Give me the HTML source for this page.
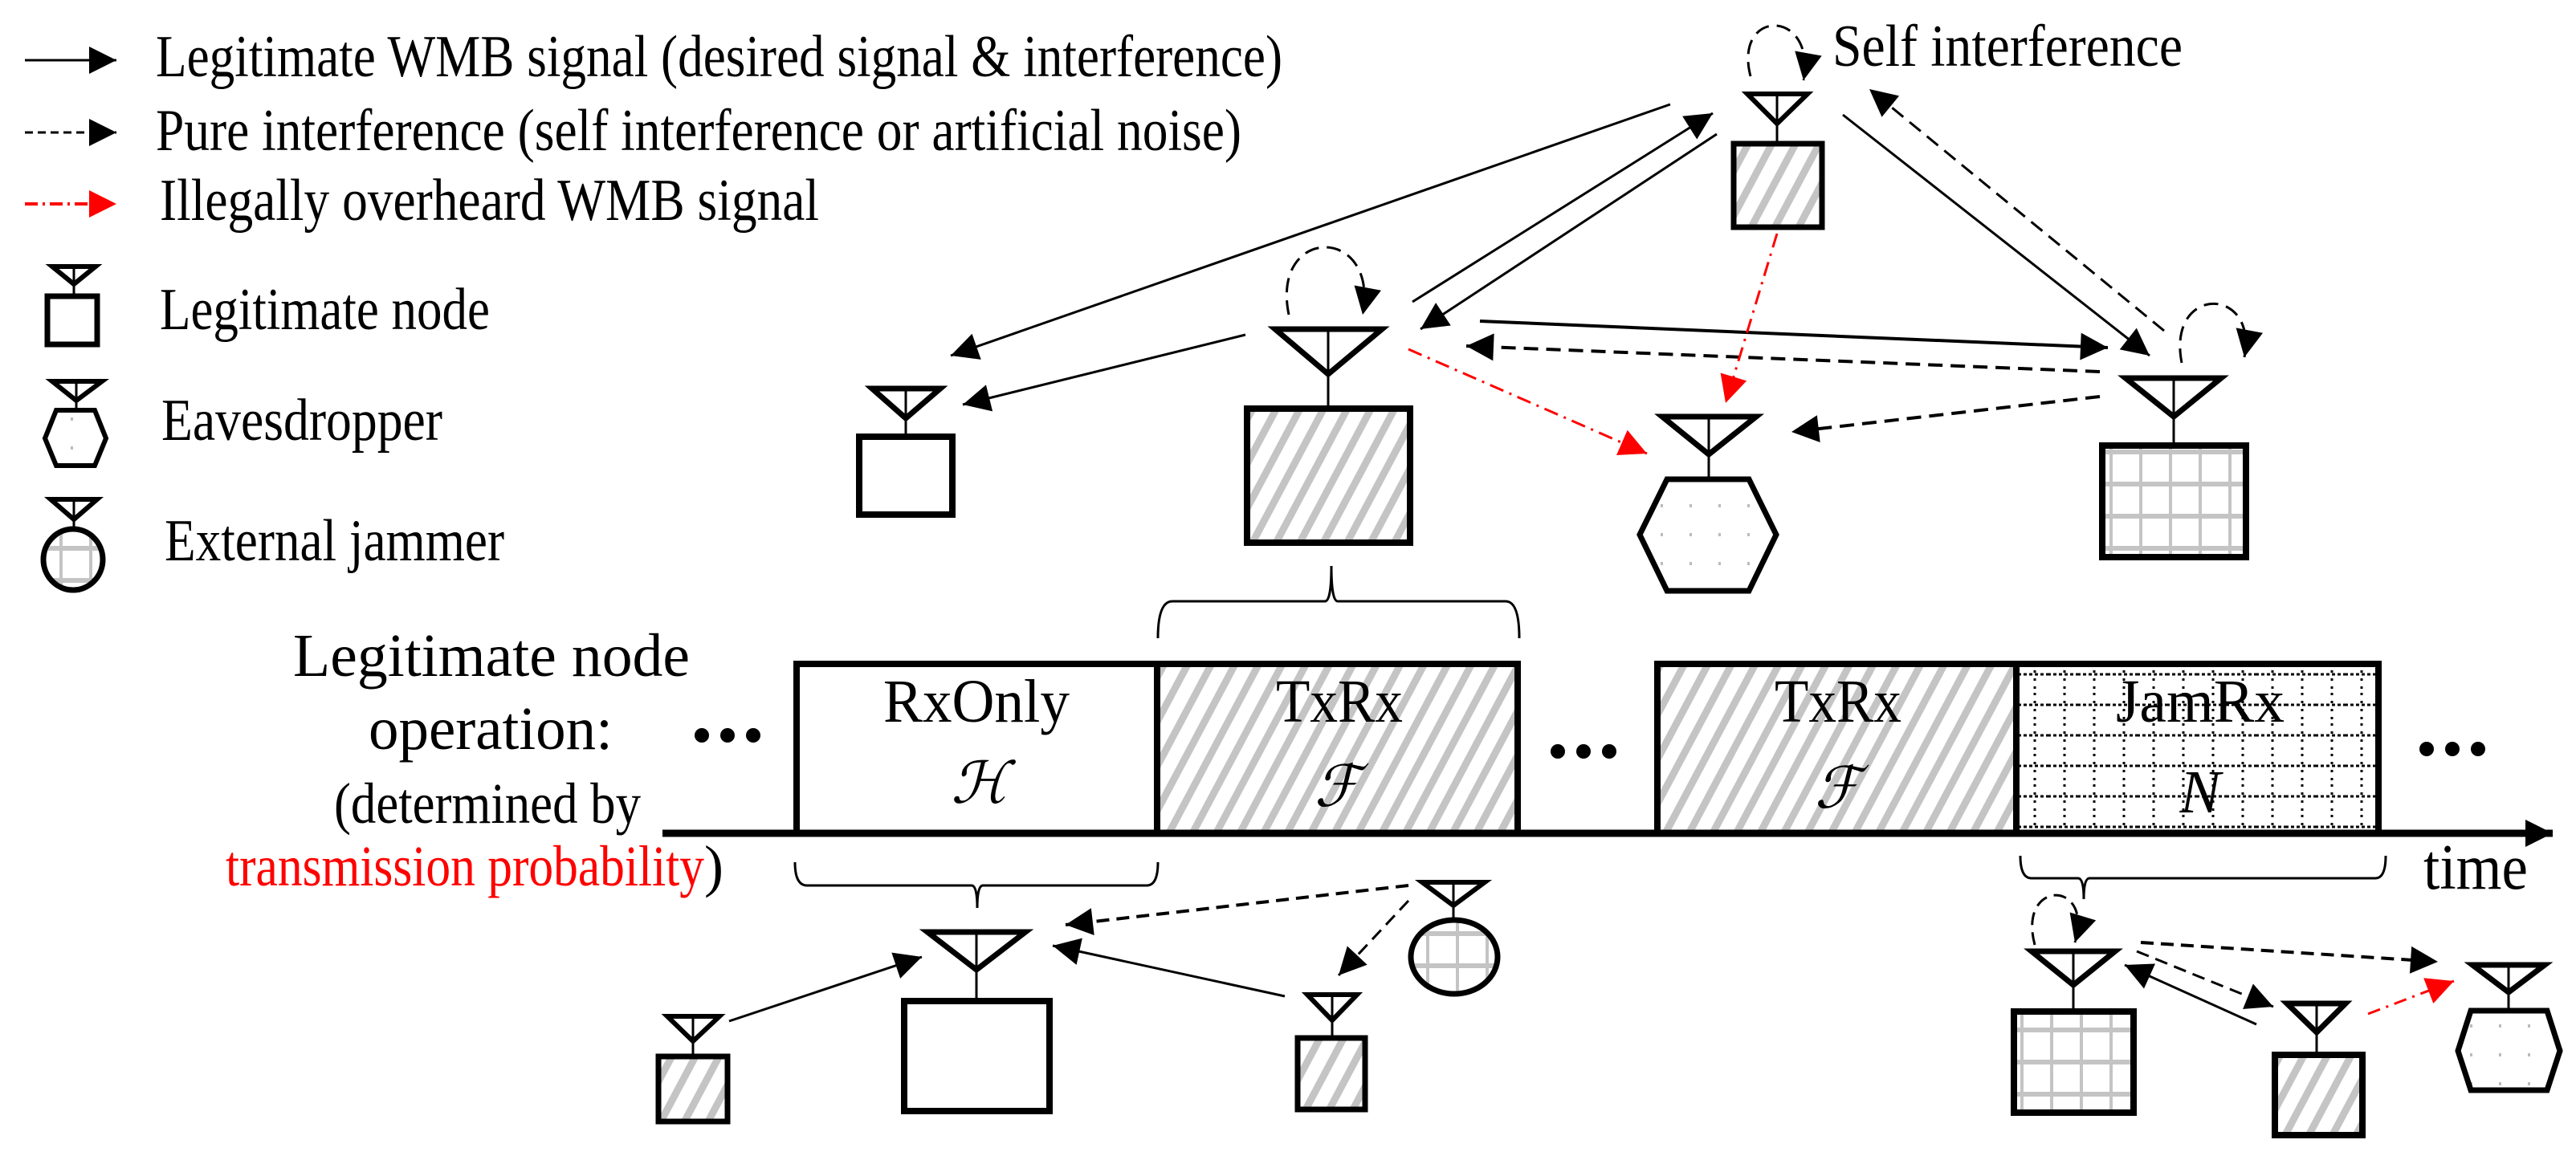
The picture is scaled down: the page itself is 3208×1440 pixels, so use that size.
<!DOCTYPE html>
<html><head><meta charset="utf-8"><style>
html,body{margin:0;padding:0;background:#fff;}
svg{display:block;}
text{font-family:"Liberation Serif","DejaVu Serif",serif;fill:#000;}
</style></head><body>
<svg width="3208" height="1440" viewBox="0 0 3208 1440" xmlns="http://www.w3.org/2000/svg">
<defs>
<marker id="a" viewBox="0 0 10 10" refX="10" refY="5" markerWidth="40" markerHeight="34" markerUnits="userSpaceOnUse" orient="auto"><path d="M0,0 L10,5 L0,10 z" fill="#000"/></marker>
<marker id="r" viewBox="0 0 10 10" refX="10" refY="5" markerWidth="40" markerHeight="34" markerUnits="userSpaceOnUse" orient="auto"><path d="M0,0 L10,5 L0,10 z" fill="#f00"/></marker>
<pattern id="h" patternUnits="userSpaceOnUse" width="26" height="26" patternTransform="rotate(28)"><rect width="26" height="26" fill="#fff"/><rect x="0" y="0" width="9" height="26" fill="#c4c4c4"/></pattern>
<pattern id="g" patternUnits="userSpaceOnUse" width="37" height="40"><rect width="37" height="40" fill="#fff"/><rect x="0" y="0" width="37" height="6" fill="#c4c4c4"/><rect x="0" y="0" width="4" height="40" fill="#c4c4c4"/></pattern>
<pattern id="d" patternUnits="userSpaceOnUse" width="37" height="38" x="2513" y="825"><rect width="37" height="38" fill="#fff"/><line x1="0" y1="15" x2="37" y2="15" stroke="#000" stroke-width="3" stroke-dasharray="4 3"/><line x1="21" y1="0" x2="21" y2="38" stroke="#000" stroke-width="3" stroke-dasharray="3 7"/></pattern>
<pattern id="p" patternUnits="userSpaceOnUse" width="36" height="36"><rect width="36" height="36" fill="#fff"/><rect x="16" y="16" width="3" height="4" fill="#bbb"/></pattern>
</defs>

<!-- Legend -->
<g stroke-width="3" fill="none">
<line x1="31" y1="75" x2="145" y2="75" stroke="#000" marker-end="url(#a)"/>
<line x1="31" y1="165" x2="145" y2="165" stroke="#000" stroke-dasharray="10 6" marker-end="url(#a)"/>
<line x1="31" y1="254" x2="145" y2="254" stroke="#f00" stroke-width="4" stroke-dasharray="16 6 3 6" marker-end="url(#r)"/>
</g>
<text x="194" y="95" font-size="74" textLength="1403" lengthAdjust="spacingAndGlyphs">Legitimate WMB signal (desired signal &amp; interference)</text>
<text x="194" y="187" font-size="74" textLength="1352" lengthAdjust="spacingAndGlyphs">Pure interference (self interference or artificial noise)</text>
<text x="199" y="274" font-size="74" textLength="821" lengthAdjust="spacingAndGlyphs">Illegally overheard WMB signal</text>
<text x="199" y="410" font-size="74" textLength="411" lengthAdjust="spacingAndGlyphs">Legitimate node</text>
<text x="201" y="548" font-size="74" textLength="350" lengthAdjust="spacingAndGlyphs">Eavesdropper</text>
<text x="205" y="698" font-size="74" textLength="423" lengthAdjust="spacingAndGlyphs">External jammer</text>

<g stroke="#000" fill="#fff">
<polygon points="65,332 119,332 92,354" stroke-width="6"/><line x1="92" y1="332" x2="92" y2="366" stroke-width="3"/>
<rect x="59" y="369" width="62" height="60" stroke-width="7"/>
<polygon points="65,475 127,475 95,499" stroke-width="6"/><line x1="95" y1="475" x2="95" y2="511" stroke-width="3"/>
<polygon points="70,511 118,511 132,546 118,580 70,580 56,546" fill="url(#p)" stroke-width="6"/>
<polygon points="63,622 121,622 92,647" stroke-width="6"/><line x1="92" y1="622" x2="92" y2="658" stroke-width="3"/>
<ellipse cx="91" cy="697" rx="37" ry="38" fill="url(#g)" stroke-width="7"/>
</g>

<text x="2282" y="82" font-size="74" textLength="436" lengthAdjust="spacingAndGlyphs">Self interference</text>

<!-- Top network arrows -->
<g stroke="#000" stroke-width="3" fill="none">
<line x1="2080" y1="130" x2="1184" y2="443" marker-end="url(#a)"/>
<line x1="1551" y1="417" x2="1199" y2="504" marker-end="url(#a)"/>
<line x1="1759" y1="376" x2="2133" y2="141" marker-end="url(#a)"/>
<line x1="2138" y1="167" x2="1769" y2="410" marker-end="url(#a)"/>
<line x1="2295" y1="143" x2="2677" y2="443" marker-end="url(#a)"/>
<line x1="1843" y1="400" x2="2625" y2="433" marker-end="url(#a)" stroke-width="4"/>
<g stroke-dasharray="18 10">
<line x1="2695" y1="412" x2="2328" y2="111" marker-end="url(#a)"/>
<line x1="2615" y1="463" x2="1826" y2="431" marker-end="url(#a)" stroke-width="4"/>
<line x1="2615" y1="494" x2="2231" y2="538" marker-end="url(#a)" stroke-width="4"/>
<path d="M2180,95 C2158,10 2262,10 2246,100" marker-end="url(#a)"/>
<path d="M1605,392 C1582,280 1718,280 1697,392" marker-end="url(#a)"/>
<path d="M2717,452 C2698,355 2812,355 2795,445" marker-end="url(#a)"/>
</g>
<g stroke="#f00" stroke-dasharray="18 8 3 8">
<line x1="1754" y1="435" x2="2051" y2="565" marker-end="url(#r)"/>
<line x1="2213" y1="291" x2="2149" y2="502" marker-end="url(#r)"/>
</g>
</g>

<!-- Top nodes -->
<g stroke="#000">
<polygon points="1086,484 1171,484 1128,521" fill="#fff" stroke-width="7"/><line x1="1128" y1="484" x2="1128" y2="540" stroke-width="3"/>
<rect x="1070" y="544" width="116" height="97" fill="#fff" stroke-width="8"/>
<polygon points="2176,117 2251,117 2213,154" fill="#fff" stroke-width="6"/><line x1="2213" y1="117" x2="2213" y2="178" stroke-width="3"/>
<rect x="2159" y="179" width="110" height="104" fill="url(#h)" stroke-width="7"/>
<polygon points="1588,410 1721,410 1654,466" fill="#fff" stroke-width="7"/><line x1="1654" y1="410" x2="1654" y2="506" stroke-width="3"/>
<rect x="1553" y="509" width="203" height="167" fill="url(#h)" stroke-width="8"/>
<polygon points="2070,519 2187,519 2128,566" fill="#fff" stroke-width="7"/><line x1="2128" y1="519" x2="2128" y2="596" stroke-width="3"/>
<polygon points="2076,597 2178,597 2212,666 2178,736 2076,736 2042,666" fill="url(#p)" stroke-width="7"/>
<polygon points="2647,471 2766,471 2707,519" fill="#fff" stroke-width="7"/><line x1="2707" y1="471" x2="2707" y2="554" stroke-width="3"/>
<rect x="2618" y="555" width="179" height="139" fill="url(#g)" stroke-width="8"/>
</g>

<!-- brackets -->
<g stroke="#000" stroke-width="3" fill="none">
<path d="M1442,795 Q1442,749 1460,749 L1650,749 Q1658,749 1658,705 Q1658,749 1666,749 L1875,749 Q1892,749 1892,795"/>
<path d="M990,1074 Q990,1103 1005,1103 L1210,1103 Q1217,1103 1217,1131 Q1217,1103 1224,1103 L1428,1103 Q1442,1103 1442,1074"/>
<path d="M2516,1066 Q2516,1094 2530,1094 L2588,1094 Q2595,1094 2595,1120 Q2595,1094 2602,1094 L2958,1094 Q2971,1094 2971,1066"/>
</g>

<!-- Timeline boxes -->
<rect x="992" y="827" width="449" height="211" fill="#fff" stroke="#000" stroke-width="8"/>
<rect x="1441" y="827" width="449" height="211" fill="url(#h)" stroke="#000" stroke-width="8"/>
<rect x="2064" y="827" width="447" height="211" fill="url(#h)" stroke="#000" stroke-width="8"/>
<rect x="2511" y="827" width="451" height="211" fill="url(#d)" stroke="#000" stroke-width="8"/>
<line x1="825" y1="1038" x2="3179" y2="1038" stroke="#000" stroke-width="9" marker-end="url(#a)"/>

<text x="1216" y="899" font-size="76" text-anchor="middle" textLength="232" lengthAdjust="spacingAndGlyphs">RxOnly</text>
<text x="1668" y="899" font-size="76" text-anchor="middle" textLength="158" lengthAdjust="spacingAndGlyphs">TxRx</text>
<text x="2289" y="899" font-size="76" text-anchor="middle" textLength="158" lengthAdjust="spacingAndGlyphs">TxRx</text>
<text x="2740" y="899" font-size="76" text-anchor="middle" textLength="210" lengthAdjust="spacingAndGlyphs">JamRx</text>
<text x="1220" y="1000" font-size="72" text-anchor="middle" font-style="italic" style="font-family:'DejaVu Serif','Liberation Serif',serif">ℋ</text>
<text x="1665" y="1004" font-size="72" text-anchor="middle" font-style="italic" style="font-family:'DejaVu Serif','Liberation Serif',serif">ℱ</text>
<text x="2288" y="1006" font-size="72" text-anchor="middle" font-style="italic" style="font-family:'DejaVu Serif','Liberation Serif',serif">ℱ</text>
<text x="2740" y="1012" font-size="76" text-anchor="middle" font-style="italic">N</text>

<text x="612" y="842" font-size="76" text-anchor="middle" textLength="494" lengthAdjust="spacingAndGlyphs">Legitimate node</text>
<text x="611" y="933" font-size="76" text-anchor="middle" textLength="304" lengthAdjust="spacingAndGlyphs">operation:</text>
<text x="416" y="1025" font-size="72" textLength="382" lengthAdjust="spacingAndGlyphs">(determined by</text>
<text x="281" y="1103" font-size="72" textLength="596" lengthAdjust="spacingAndGlyphs" style="fill:#f00">transmission probability</text>
<text x="877" y="1103" font-size="72">)</text>
<text x="3018" y="1107" font-size="80" textLength="130" lengthAdjust="spacingAndGlyphs">time</text>

<g fill="#000">
<circle cx="874" cy="916" r="9"/><circle cx="906" cy="916" r="9"/><circle cx="938" cy="916" r="9"/>
<circle cx="1940" cy="936" r="9"/><circle cx="1972" cy="936" r="9"/><circle cx="2004" cy="936" r="9"/>
<circle cx="3022" cy="933" r="9"/><circle cx="3054" cy="933" r="9"/><circle cx="3086" cy="933" r="9"/>
</g>

<!-- Bottom arrows -->
<g stroke="#000" stroke-width="3" fill="none">
<line x1="908" y1="1272" x2="1148" y2="1192" marker-end="url(#a)"/>
<line x1="1600" y1="1241" x2="1311" y2="1178" marker-end="url(#a)"/>
<line x1="2810" y1="1276" x2="2646" y2="1202" marker-end="url(#a)"/>
<g stroke-dasharray="16 9">
<line x1="1754" y1="1103" x2="1327" y2="1152" marker-end="url(#a)" stroke-width="4"/>
<line x1="1754" y1="1122" x2="1667" y2="1215" marker-end="url(#a)"/>
<line x1="2666" y1="1174" x2="3036" y2="1198" marker-end="url(#a)" stroke-width="4"/>
<line x1="2661" y1="1185" x2="2831" y2="1254" marker-end="url(#a)"/>
<path d="M2534,1177 C2512,1095 2608,1095 2584,1174" marker-end="url(#a)"/>
</g>
<line x1="2949" y1="1263" x2="3056" y2="1222" stroke="#f00" stroke-dasharray="16 8 3 8" marker-end="url(#r)"/>
</g>

<!-- Bottom nodes -->
<g stroke="#000">
<polygon points="1155,1161 1277,1161 1216,1208" fill="#fff" stroke-width="7"/><line x1="1216" y1="1161" x2="1216" y2="1243" stroke-width="3"/>
<rect x="1126" y="1247" width="181" height="137" fill="#fff" stroke-width="8"/>
<polygon points="831,1266 896,1266 863,1297" fill="#fff" stroke-width="6"/><line x1="863" y1="1266" x2="863" y2="1313" stroke-width="3"/>
<rect x="820" y="1316" width="86" height="81" fill="url(#h)" stroke-width="7"/>
<polygon points="1771,1099 1849,1099 1810,1128" fill="#fff" stroke-width="6"/><line x1="1810" y1="1099" x2="1810" y2="1144" stroke-width="3"/>
<ellipse cx="1811" cy="1192" rx="54" ry="46" fill="url(#g)" stroke-width="7"/>
<polygon points="1628,1239 1690,1239 1659,1271" fill="#fff" stroke-width="6"/><line x1="1659" y1="1239" x2="1659" y2="1290" stroke-width="3"/>
<rect x="1616" y="1293" width="84" height="89" fill="url(#h)" stroke-width="7"/>
<polygon points="2530,1185 2634,1185 2582,1227" fill="#fff" stroke-width="7"/><line x1="2582" y1="1185" x2="2582" y2="1257" stroke-width="3"/>
<rect x="2508" y="1260" width="149" height="126" fill="url(#g)" stroke-width="8"/>
<polygon points="2848,1250 2921,1250 2885,1286" fill="#fff" stroke-width="7"/><line x1="2885" y1="1250" x2="2885" y2="1311" stroke-width="3"/>
<rect x="2833" y="1314" width="109" height="100" fill="url(#h)" stroke-width="8"/>
<polygon points="3079,1202 3169,1202 3124,1236" fill="#fff" stroke-width="7"/><line x1="3124" y1="1202" x2="3124" y2="1258" stroke-width="3"/>
<polygon points="3077,1259 3172,1259 3188,1309 3172,1358 3077,1358 3061,1309" fill="url(#p)" stroke-width="7"/>
</g>
</svg>
</body></html>
